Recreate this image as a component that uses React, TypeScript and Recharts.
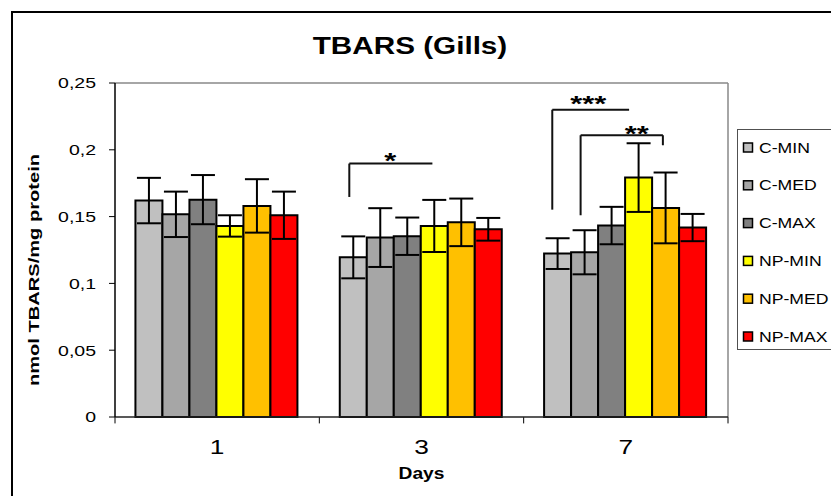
import React from "react";
import {
  BarChart,
  Bar,
  XAxis,
  YAxis,
  ErrorBar,
  ReferenceLine,
  ReferenceDot,
  Legend,
} from "recharts";

const FONT = '"Liberation Sans", Arial, Helvetica, sans-serif';

// days on the x axis
const DAYS = ["1", "3", "7"];

// means (nmol TBARS/mg protein) and their error bars, one value per day
const C_MIN = [0.162, 0.1195, 0.1223];
const C_MIN_ERR = [0.017, 0.0157, 0.0115];
const C_MED = [0.1517, 0.1343, 0.1233];
const C_MED_ERR = [0.017, 0.022, 0.0165];
const C_MAX = [0.1627, 0.1353, 0.1433];
const C_MAX_ERR = [0.0184, 0.014, 0.014];
const NP_MIN = [0.143, 0.143, 0.1792];
const NP_MIN_ERR = [0.008, 0.0195, 0.0257];
const NP_MED = [0.158, 0.1457, 0.1565];
const NP_MED_ERR = [0.02, 0.0178, 0.0265];
const NP_MAX = [0.151, 0.1405, 0.1418];
const NP_MAX_ERR = [0.0177, 0.0085, 0.0102];

const Y_TICKS = [0, 0.05, 0.1, 0.15, 0.2, 0.25];

// significance brackets: group index, ends in bar widths from the group's left edge
const BRACKET_GROUP = [1, 2, 2];
const BRACKET_FROM = [0.35, 0.3, 1.34];
const BRACKET_TO = [3.4, 3.12, 4.36];
const BRACKET_TOP = [0.1897, 0.23, 0.2109];
const BRACKET_LEFT_END = [0.1647, 0.1552, 0.151];
const BRACKET_RIGHT_END: (number | null)[] = [null, null, 0.2034];
const BRACKET_MARK = ["*", "***", "**"];
const MARK_AT = [1.85, 1.62, 3.4];
const MARK_Y = [0.196, 0.2385, 0.2161];

const SERIES = [
  { key: "cmin", name: "C-MIN", color: "#C0C0C0", values: C_MIN, errors: C_MIN_ERR },
  { key: "cmed", name: "C-MED", color: "#A6A6A6", values: C_MED, errors: C_MED_ERR },
  { key: "cmax", name: "C-MAX", color: "#808080", values: C_MAX, errors: C_MAX_ERR },
  { key: "npmin", name: "NP-MIN", color: "#FFFF00", values: NP_MIN, errors: NP_MIN_ERR },
  { key: "npmed", name: "NP-MED", color: "#FFC000", values: NP_MED, errors: NP_MED_ERR },
  { key: "npmax", name: "NP-MAX", color: "#FF0000", values: NP_MAX, errors: NP_MAX_ERR },
];

const data = DAYS.map((day, i) => {
  const row: Record<string, string | number> = { day, pos: i + 0.5 };
  SERIES.forEach((s) => {
    row[s.key] = s.values[i];
    row[s.key + "_err"] = s.errors[i];
  });
  return row;
});

const CAT_GAP = 0.1;
const BAR_W = (1 - 2 * CAT_GAP) / SERIES.length;
const barPos = (group: number, u: number) => group + CAT_GAP + u * BAR_W;

function SText({
  x,
  y,
  sx = 1,
  anchor = "middle",
  size,
  weight = "normal",
  rotate,
  children,
}: {
  x: number;
  y: number;
  sx?: number;
  anchor?: "start" | "middle" | "end";
  size: number;
  weight?: string;
  rotate?: number;
  children: React.ReactNode;
}) {
  const t = `translate(${x},${y})${rotate ? ` rotate(${rotate})` : ""} scale(${sx},1)`;
  return (
    <text
      transform={t}
      textAnchor={anchor}
      fontSize={size}
      fontWeight={weight}
      fontFamily={FONT}
      fill="#000"
    >
      {children}
    </text>
  );
}

const fmtTick = (v: number) => String(v).replace(".", ",");

function YTick(p: any) {
  return (
    <SText x={p.x} y={p.y + 5.4} anchor="end" size={15} sx={1.3}>
      {fmtTick(p.payload.value)}
    </SText>
  );
}

function XTick(p: any) {
  return (
    <SText x={p.x} y={p.y + 37} size={21} sx={1.25}>
      {p.payload.value}
    </SText>
  );
}

function LegendBox() {
  return (
    <div
      style={{
        width: 130,
        height: 219,
        border: "1.5px solid #505050",
        background: "#fff",
      }}
    >
      <svg width={130} height={219}>
        {SERIES.map((s, i) => {
          const cy = 17.5 + i * 37.8;
          return (
            <g key={s.key}>
              <rect x={5.5} y={cy - 4.5} width={9} height={9} fill={s.color} stroke="#000" strokeWidth={1.5} />
              <SText x={21} y={cy + 5} anchor="start" size={14} sx={1.26}>
                {s.name}
              </SText>
            </g>
          );
        })}
      </svg>
    </div>
  );
}

export default function App() {
  return (
    <div
      style={{
        position: "relative",
        width: 831,
        height: 488,
        overflow: "hidden",
        background: "#fff",
      }}
    >
      <div
        style={{
          position: "absolute",
          left: 3,
          top: 3,
          width: 2000,
          height: 2000,
          borderLeft: "2.5px solid #000",
          borderTop: "2.5px solid #000",
        }}
      />
      <div
        style={{
          position: "absolute",
          left: 0,
          top: 26.8,
          width: 804,
          textAlign: "center",
          fontFamily: FONT,
          fontWeight: "bold",
          fontSize: 23,
          lineHeight: "23px",
          transform: "scaleX(1.29)",
        }}
      >
        TBARS (Gills)
      </div>
      <div style={{ position: "absolute", left: 0, top: 0 }}>
        <BarChart
          width={831}
          height={488}
          data={data}
          margin={{ top: 75, right: 111, bottom: 0, left: 0 }}
          barCategoryGap="10%"
          barGap={0}
        >
          <XAxis
            dataKey="day"
            height={79}
            tickLine={false}
            tickSize={0}
            tickMargin={0}
            axisLine={{ stroke: "#222", strokeWidth: 1.5 }}
            tick={<XTick />}
            label={{
              content: (p: any) => {
                const vb = p.viewBox || { x: 107, y: 409, width: 613 };
                return (
                  <SText x={vb.x + vb.width / 2} y={vb.y + 62} size={16} weight="bold" sx={1.2}>
                    Days
                  </SText>
                );
              },
            }}
          />
          <XAxis
            xAxisId="num"
            dataKey="pos"
            type="number"
            domain={[0, DAYS.length]}
            allowDataOverflow
            orientation="top"
            hide
          />
          <YAxis
            width={107}
            domain={[0, 0.25]}
            ticks={Y_TICKS}
            interval={0}
            tickSize={6}
            tickMargin={13}
            axisLine={{ stroke: "#000", strokeWidth: 1.5 }}
            tickLine={{ stroke: "#000", strokeWidth: 1 }}
            tick={<YTick />}
            label={{
              content: (p: any) => {
                const vb = p.viewBox || { x: 0, y: 75, width: 107, height: 334 };
                return (
                  <SText x={30.7} y={vb.y + vb.height / 2 + 20} size={15} weight="bold" sx={1.34} rotate={-90}>
                    nmol TBARS/mg protein
                  </SText>
                );
              },
            }}
          />
          <ReferenceLine y={0.25} stroke="#888" strokeWidth={1.5} />
          <ReferenceLine xAxisId="num" x={DAYS.length} stroke="#888" strokeWidth={1.5} ifOverflow="visible" />
          {DAYS.map((_, i) => i)
            .concat([DAYS.length])
            .map((b) => (
              <ReferenceLine
                key={"tk" + b}
                xAxisId="num"
                ifOverflow="visible"
                segment={[
                  { x: b, y: 0 },
                  { x: b, y: -0.0048 },
                ]}
                stroke="#000"
                strokeWidth={1}
              />
            ))}
          {SERIES.map((s) => (
            <Bar
              key={s.key}
              dataKey={s.key}
              name={s.name}
              fill={s.color}
              stroke="#000"
              strokeWidth={2}
              isAnimationActive={false}
            >
              <ErrorBar
                dataKey={s.key + "_err"}
                width={12}
                stroke="#000"
                strokeWidth={2}
                direction="y"
                isAnimationActive={false}
              />
            </Bar>
          ))}
          {BRACKET_GROUP.map((g, i) => {
            const x1 = barPos(g, BRACKET_FROM[i]);
            const x2 = barPos(g, BRACKET_TO[i]);
            const right = BRACKET_RIGHT_END[i];
            return (
              <React.Fragment key={"br" + i}>
                <ReferenceLine
                  xAxisId="num"
                  segment={[
                    { x: x1, y: BRACKET_LEFT_END[i] },
                    { x: x1, y: BRACKET_TOP[i] },
                  ]}
                  stroke="#111"
                  strokeWidth={2}
                />
                <ReferenceLine
                  xAxisId="num"
                  segment={[
                    { x: x1, y: BRACKET_TOP[i] },
                    { x: x2, y: BRACKET_TOP[i] },
                  ]}
                  stroke="#111"
                  strokeWidth={2}
                />
                {right !== null && (
                  <ReferenceLine
                    xAxisId="num"
                    segment={[
                      { x: x2, y: BRACKET_TOP[i] },
                      { x: x2, y: right },
                    ]}
                    stroke="#111"
                    strokeWidth={2}
                  />
                )}
                <ReferenceDot
                  xAxisId="num"
                  x={barPos(g, MARK_AT[i])}
                  y={MARK_Y[i]}
                  r={0}
                  ifOverflow="visible"
                  shape={(p: any) => (
                    <SText x={p.cx} y={p.cy + 12.4} size={22} weight="bold" sx={1.4}>
                      {BRACKET_MARK[i]}
                    </SText>
                  )}
                />
              </React.Fragment>
            );
          })}
          <Legend
            layout="horizontal"
            verticalAlign="middle"
            align="center"
            wrapperStyle={{ position: "absolute", left: 728.7, top: 121.3, width: 140, height: 222 }}
            content={() => <LegendBox />}
          />
        </BarChart>
      </div>
    </div>
  );
}
